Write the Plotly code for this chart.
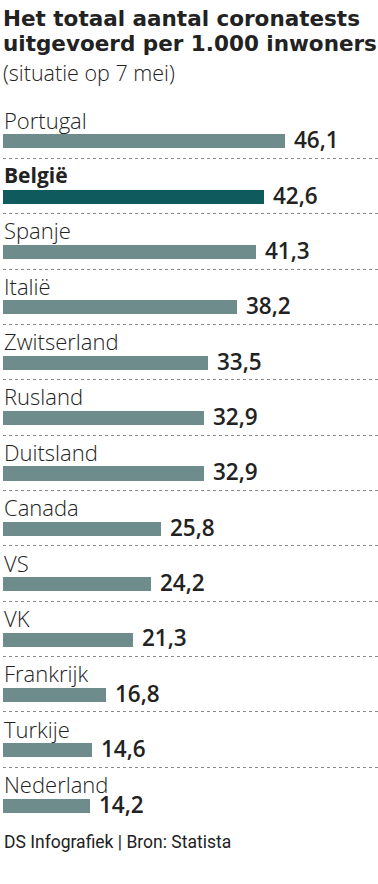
import plotly.graph_objects as go

countries = ["Portugal", "België", "Spanje", "Italië", "Zwitserland", "Rusland",
             "Duitsland", "Canada", "VS", "VK", "Frankrijk", "Turkije", "Nederland"]
values = [46.1, 42.6, 41.3, 38.2, 33.5, 32.9, 32.9, 25.8, 24.2, 21.3, 16.8, 14.6, 14.2]
highlight = "België"

title_lines = ["Het totaal aantal coronatests", "uitgevoerd per 1.000 inwoners"]
subtitle = "(situatie op 7 mei)"
footer = "DS Infografiek | Bron: Statista"

GREY = "#6e8c8c"
DARK = "#0f5a5c"
TXT = "#222222"
FONT = "Open Sans"
TFONT = "DejaVu Sans"

colors = [DARK if c == highlight else GREY for c in countries]

fig = go.Figure()
fig.add_trace(go.Bar(
    x=values, y=countries, orientation="h",
    marker=dict(color=colors, line=dict(width=0)),
    width=0.255, offset=0.065,
    hoverinfo="skip",
))

annotations = []
for c, v in zip(countries, values):
    bold = c == highlight
    annotations.append(dict(
        x=0, y=c, xref="x", yref="y", xanchor="left", yanchor="middle",
        text=c, showarrow=False, yshift=11, xshift=-1,
        font=dict(family=FONT, size=22 if not bold else 21, color=TXT,
                  weight=700 if bold else 300),
    ))
    annotations.append(dict(
        x=v, y=c, xref="x", yref="y", xanchor="left", yanchor="middle",
        text=f"{v:.1f}".replace(".", ","), showarrow=False, yshift=-9, xshift=7,
        font=dict(family=FONT, size=22.5, color=TXT, weight=600),
    ))

annotations += [
    dict(x=0, y=1, xref="paper", yref="paper", xanchor="left", yanchor="middle",
         text=title_lines[0], showarrow=False, yshift=85, xshift=-2,
         font=dict(family=TFONT, size=21.5, color=TXT, weight=700)),
    dict(x=0, y=1, xref="paper", yref="paper", xanchor="left", yanchor="middle",
         text=title_lines[1], showarrow=False, yshift=60, xshift=-2,
         font=dict(family=TFONT, size=21.5, color=TXT, weight=700)),
    dict(x=0, y=1, xref="paper", yref="paper", xanchor="left", yanchor="middle",
         text=subtitle, showarrow=False, yshift=31, xshift=-2,
         font=dict(family=FONT, size=21.5, color=TXT, weight=300)),
    dict(x=0, y=0, xref="paper", yref="paper", xanchor="left", yanchor="middle",
         text=footer, showarrow=False, yshift=-19, xshift=-1,
         font=dict(family="Roboto", size=17.5, color=TXT)),
]

fig.update_layout(
    width=378, height=884,
    margin=dict(l=3, r=0, t=103, b=61, pad=0),
    paper_bgcolor="white", plot_bgcolor="white",
    showlegend=False,
    bargap=0,
    xaxis=dict(range=[0, 61.3], visible=False, fixedrange=True),
    yaxis=dict(
        categoryorder="array", categoryarray=countries, autorange="reversed",
        tickson="boundaries", showgrid=True, gridcolor="#8a8a8a", griddash="dot",
        gridwidth=1, showticklabels=False, ticks="", zeroline=False,
        showline=False, fixedrange=True,
    ),
    annotations=annotations,
)

fig.write_html("out.html", config={"displayModeBar": False},
               post_script="document.body.style.margin='0';document.body.style.padding='0';")
